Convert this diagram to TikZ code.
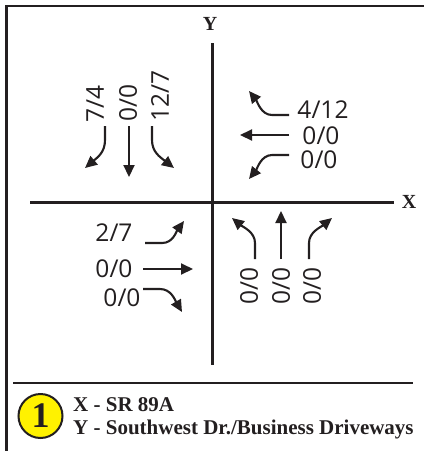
\documentclass[tikz,border=0pt]{standalone}
\usepackage{fontspec}
\setmainfont{Liberation Serif}
\newfontfamily\numfont{Open Sans}
\usetikzlibrary{arrows.meta}
\definecolor{ink}{HTML}{231F20}
\definecolor{signyellow}{HTML}{FFF200}
\begin{document}
\begin{tikzpicture}[x=1pt,y=-1pt,
  frameline/.style={ink,line width=2.8pt},
  axisline/.style={ink,line width=2.8pt},
  mv/.style={ink,line width=2.1pt,-{Triangle[length=12pt,width=11pt]}},
  vol/.style={ink,font=\numfont\fontsize{24.5}{24.5}\selectfont,inner sep=0pt},
  rvol/.style={vol,rotate=90},
  lbl/.style={ink,font=\bfseries\fontsize{21}{21}\selectfont,inner sep=0pt,anchor=west},
  axlbl/.style={ink,font=\bfseries\fontsize{20}{20}\selectfont,inner sep=0pt}]
\useasboundingbox (0,0) rectangle (424,451);
% frame
\coordinate (ftl) at (6.5,6);
\coordinate (ftr) at (424,6);
\coordinate (fbl) at (6.5,451);
\draw[frameline] (ftr) -- (ftl) -- (fbl);
\coordinate (sepl) at (13,383);
\coordinate (sepr) at (413,383);
\draw[frameline] (sepl) -- (sepr);
% axes
\coordinate (xa) at (30,202.5);
\coordinate (xb) at (394,202.5);
\coordinate (ya) at (212.5,43);
\coordinate (yb) at (212.5,365);
\draw[axisline] (xa) -- (xb);
\draw[axisline] (ya) -- (yb);
\node[axlbl] (xl) at (409,202) {X};
\node[axlbl] (yl) at (210,24) {Y};
% NW quadrant (southbound)
\node[rvol] (nw1) at (95,104) {7/4};
\node[rvol] (nw2) at (128,103) {0/0};
\node[rvol] (nw3) at (160,96) {12/7};
\coordinate (nwa1) at (105,126);
\coordinate (nwb1) at (85,168);
\coordinate (nwa2) at (129,126);
\coordinate (nwb2) at (129,177);
\coordinate (nwa3) at (152,126);
\coordinate (nwb3) at (174,168);
\draw[mv] (nwa1) -- ++(0,14) .. controls +(0,12) and (98,157) .. (nwb1);
\draw[mv] (nwa2) -- (nwb2);
\draw[mv] (nwa3) -- ++(0,14) .. controls +(0,12) and (160,157) .. (nwb3);
% NE quadrant (westbound)
\node[vol] (ne1) at (323,110) {4/12};
\node[vol] (ne2) at (321,136) {0/0};
\node[vol] (ne3) at (319,160) {0/0};
\coordinate (nea1) at (289,115);
\coordinate (neb1) at (249,91);
\coordinate (nea2) at (289,135);
\coordinate (neb2) at (240,135);
\coordinate (nea3) at (289,155);
\coordinate (neb3) at (249,179);
\draw[mv] (nea1) -- ++(-17,0) .. controls +(-11,0) and (257,101) .. (neb1);
\draw[mv] (nea2) -- (neb2);
\draw[mv] (nea3) -- ++(-17,0) .. controls +(-11,0) and (257,169) .. (neb3);
% SW quadrant (eastbound)
\node[vol] (sw1) at (114,233) {2/7};
\node[vol] (sw2) at (114,269) {0/0};
\node[vol] (sw3) at (122,298) {0/0};
\coordinate (swa1) at (145,243);
\coordinate (swb1) at (184,221);
\coordinate (swa2) at (143,269);
\coordinate (swb2) at (193,269);
\coordinate (swa3) at (143,289);
\coordinate (swb3) at (182,312);
\draw[mv] (swa1) -- ++(17,0) .. controls +(11,0) and (176,232) .. (swb1);
\draw[mv] (swa2) -- (swb2);
\draw[mv] (swa3) -- ++(17,0) .. controls +(11,0) and (175,300) .. (swb3);
% SE quadrant (northbound)
\node[rvol] (se1) at (249,286) {0/0};
\node[rvol] (se2) at (281,286) {0/0};
\node[rvol] (se3) at (312,286) {0/0};
\coordinate (sea1) at (255,259);
\coordinate (seb1) at (232,218);
\coordinate (sea2) at (281,259);
\coordinate (seb2) at (281,211);
\coordinate (sea3) at (309,259);
\coordinate (seb3) at (332,218);
\draw[mv] (sea1) -- ++(0,-16) .. controls +(0,-11) and (243,227) .. (seb1);
\draw[mv] (sea2) -- (seb2);
\draw[mv] (sea3) -- ++(0,-16) .. controls +(0,-11) and (321,227) .. (seb3);
% legend
\node[circle,draw=ink,line width=2pt,fill=signyellow,minimum size=44pt,inner sep=0pt,
  font=\bfseries\fontsize{36}{36}\selectfont,text=ink] (badge) at (40.5,416) {1};
\node[lbl] (lx) at (73,405) {X - SR 89A};
\node[lbl] (ly) at (73,429) {Y - Southwest Dr./Business Driveways};
\end{tikzpicture}
\end{document}
